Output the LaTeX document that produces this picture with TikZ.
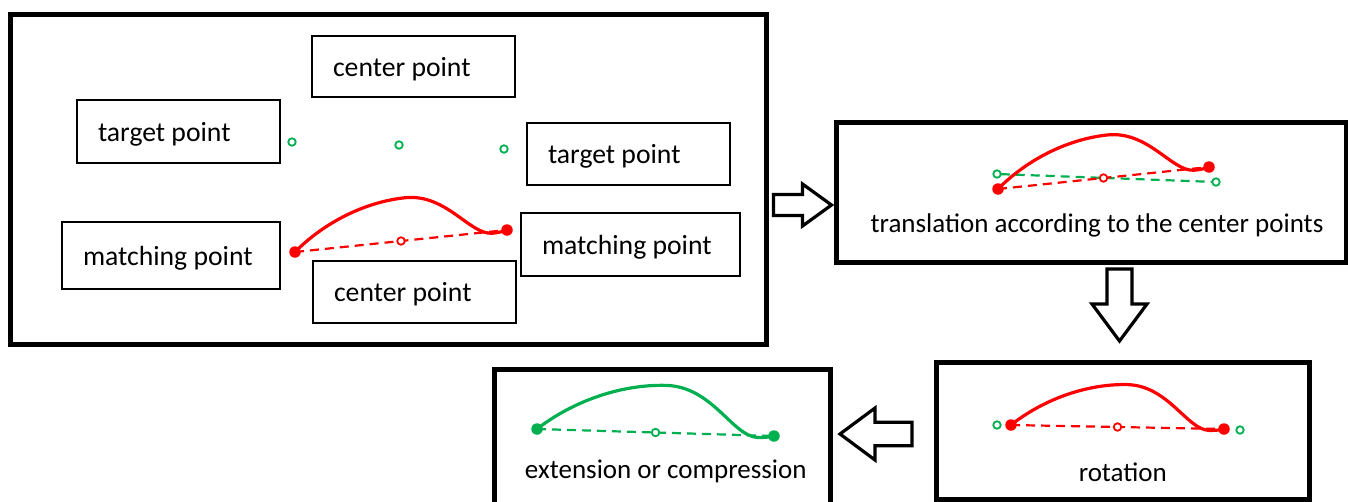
\documentclass[tikz,border=0pt]{standalone}
\usepackage{fontspec}
\setmainfont{Carlito}
\usetikzlibrary{calc}
\definecolor{mred}{RGB}{255,0,0}
\definecolor{mgreen}{RGB}{0,176,80}
\pgfdeclarelayer{bg}
\pgfdeclarelayer{lines}
\pgfsetlayers{bg,lines,main}

\tikzset{
  panelbox/.style={draw=black, line width=5pt, rectangle, outer sep=0pt, inner sep=0pt, anchor=north west},
  labelbox/.style={draw=black, line width=2pt, rectangle, outer sep=0pt, inner xsep=21pt, inner ysep=0pt,
    anchor=north west, text height=19pt, text depth=0pt, font=\fontsize{27.7}{33}\selectfont},
  captiontext/.style={anchor=base, inner sep=0pt, font=\fontsize{27}{33}\selectfont},
  enddot/.style={circle, fill=#1, draw=none, minimum size=11.5pt, inner sep=0pt, outer sep=0pt},
  ring/.style={circle, draw=#1, fill=white, line width=1.8pt, minimum size=7.5pt, inner sep=0pt, outer sep=0pt},
  chordline/.style={draw=#1, line width=2.2pt, dash pattern=on 9pt off 6pt},
  limb/.style={draw=#1, line width=3.2pt, line cap=round},
  arrowline/.style={draw=black, line width=3.2pt, fill=white, line join=miter},
}

% left-aligned text of a given width
\newcommand\lefttext[2]{\makebox[#1][l]{#2}}

% curve between two end nodes, control points given as (fraction, angle) from the start
\newcommand\limbpath[3]{%
  \draw[limb=#3] (#1.center)
    .. controls ($(#1.center)!0.189!39.4:(#2.center)$) and ($(#1.center)!0.3996!30.0:(#2.center)$)
    .. ($(#1.center)!0.5758!20.32:(#2.center)$)
    .. controls ($(#1.center)!0.7617!15.22:(#2.center)$) and ($(#1.center)!0.825!-0.42:(#2.center)$)
    .. ($(#1.center)!0.93!-0.49:(#2.center)$)
    .. controls ($(#1.center)!0.965!-0.47:(#2.center)$) and ($(#1.center)!0.988!-0.23:(#2.center)$)
    .. (#2.center);}

% outlined block arrow: centre, angle, half length, head length, shaft half width, head half width
\newcommand\blockarrow[6]{%
  \begin{scope}[shift={(#1)}, rotate=#2]
    \draw[arrowline] (-#3,-#5) -- ({#3-#4},-#5) -- ({#3-#4},-#6) -- (#3,0)
      -- ({#3-#4},#6) -- ({#3-#4},#5) -- (-#3,#5) -- cycle;
  \end{scope}}

\begin{document}
\begin{tikzpicture}[x=1pt,y=-1pt]
\useasboundingbox (0,0) rectangle (1348,501);
\clip (0,0) rectangle (1348,501);
\begin{pgfonlayer}{bg}
  \fill[white] (0,0) rectangle (1348,501);
\end{pgfonlayer}

% panels
\node[panelbox, minimum width=756pt, minimum height=330.5pt] (main) at (10,14) {};
\node[panelbox, minimum width=509.5pt, minimum height=140pt] (trans) at (836.5,122.5) {};
\node[panelbox, minimum width=373pt, minimum height=137pt] (rot) at (936,362) {};
\node[panelbox, minimum width=336pt, minimum height=150pt] (ext) at (494,369) {};

% labels of the first panel
\node[labelbox, minimum height=61pt] (ctop) at (312,36) {\lefttext{161pt}{center point}};
\node[labelbox, minimum height=63pt] (tleft) at (77,100) {\lefttext{161pt}{target point}};
\node[labelbox, minimum height=62pt] (tright) at (527,123) {\lefttext{161pt}{target point}};
\node[labelbox, minimum height=67pt] (mleft) at (62,222) {\lefttext{176pt}{matching point}};
\node[labelbox, minimum height=62pt] (cbot) at (313,261) {\lefttext{161pt}{center point}};
\node[labelbox, minimum height=63pt] (mright) at (521,213) {\lefttext{177pt}{matching point}};

% first panel: targets and matched curve
\node[ring=mgreen] (g1a) at (292,142) {};
\node[ring=mgreen] (g1b) at (399,145) {};
\node[ring=mgreen] (g1c) at (504,149) {};
\node[enddot=mred] (s1) at (295,252) {};
\node[enddot=mred] (e1) at (507,230) {};
\node[ring=mred] (m1) at ($(s1.center)!0.5!(e1.center)$) {};
\begin{pgfonlayer}{lines}
  \draw[chordline=mred] (s1.center) -- (e1.center);
  \limbpath{s1}{e1}{mred}
\end{pgfonlayer}

% translation panel
\node[ring=mgreen] (g2a) at (997,174) {};
\node[ring=mgreen] (g2b) at (1216,182) {};
\node[enddot=mred] (s2) at (998,189) {};
\node[enddot=mred] (e2) at (1209,167) {};
\node[ring=mred] (m2) at ($(s2.center)!0.5!(e2.center)$) {};
\begin{pgfonlayer}{lines}
  \draw[chordline=mgreen] (g2a) -- (g2b);
  \draw[chordline=mred] (s2.center) -- (e2.center);
  \limbpath{s2}{e2}{mred}
\end{pgfonlayer}
\node[captiontext] (ttext) at (1097,232) {translation according to the center points};

% rotation panel
\node[ring=mgreen] (g3a) at (997,425) {};
\node[ring=mgreen] (g3b) at (1240,430) {};
\node[enddot=mred] (s3) at (1011,425) {};
\node[enddot=mred] (e3) at (1224,429) {};
\node[ring=mred] (m3) at ($(s3.center)!0.5!(e3.center)$) {};
\begin{pgfonlayer}{lines}
  \draw[chordline=mred] (s3.center) -- (e3.center);
  \limbpath{s3}{e3}{mred}
\end{pgfonlayer}
\node[captiontext] (rtext) at (1122.8,481.5) {rotation};

% extension panel
\node[enddot=mgreen] (s4) at (537,429) {};
\node[enddot=mgreen] (e4) at (774,436) {};
\node[ring=mgreen] (m4) at ($(s4.center)!0.5!(e4.center)$) {};
\begin{pgfonlayer}{lines}
  \draw[chordline=mgreen] (s4.center) -- (e4.center);
  \limbpath{s4}{e4}{mgreen}
\end{pgfonlayer}
\node[captiontext] (etext) at (665.8,478) {extension or compression};

% block arrows between the panels
\coordinate (arrA) at (802.5,205);
\coordinate (arrB) at (1119.5,305);
\coordinate (arrC) at (876,434);
\blockarrow{arrA}{0}{29}{29}{10.5}{21}
\blockarrow{arrB}{-90}{36}{37}{12.5}{27.5}
\blockarrow{arrC}{180}{36}{35}{11.8}{26}
\end{tikzpicture}
\end{document}
